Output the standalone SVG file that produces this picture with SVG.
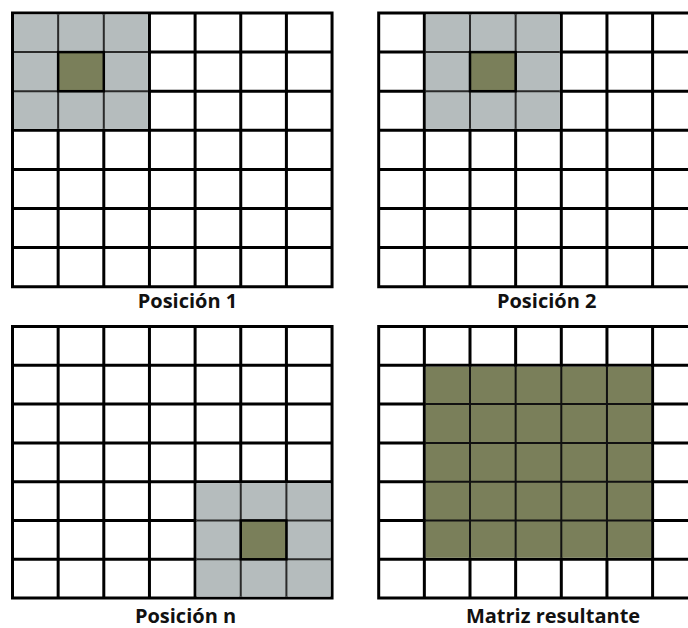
<svg xmlns="http://www.w3.org/2000/svg" width="688" height="628" viewBox="0 0 688 628">
<style>
.bg{fill:#ffffff}
.grid{fill:none;stroke:#000;stroke-width:3;stroke-linecap:square}
.gray{fill:#b5bcbd}
.thin{fill:none;stroke:#2a2a2a;stroke-width:2}
.thinb{fill:none;stroke:#111;stroke-width:2}
.green{fill:#7a7f5a;stroke:#000;stroke-width:2.5}
.greenfill{fill:#7a7f5a}
.lbl{font-family:"Open Sans",Lato,"DejaVu Sans",sans-serif;font-weight:bold;font-size:20px;fill:#111;text-anchor:middle}
</style>
<rect width="688" height="628" fill="#fff"/>

<g id="panel-posicion-1">
<rect class="bg" x="12.5" y="13" width="319.55" height="273.7"/>
<path class="grid" d="M12.5 13V286.7M58.15 13V286.7M103.8 13V286.7M149.45 13V286.7M195.1 13V286.7M240.75 13V286.7M286.4 13V286.7M332.05 13V286.7M12.5 13H332.05M12.5 52.1H332.05M12.5 91.2H332.05M12.5 130.3H332.05M12.5 169.4H332.05M12.5 208.5H332.05M12.5 247.6H332.05M12.5 286.7H332.05"/>
<rect class="gray" x="14" y="14.5" width="133.95" height="114.3"/>
<path class="thin" d="M58.15 14.5V128.8M103.8 14.5V128.8M14 52.1H147.95M14 91.2H147.95"/>
<rect class="green" x="58.15" y="52.1" width="45.65" height="39.1"/>
<text class="lbl" x="187.5" y="307.5">Posición 1</text>
</g>

<g id="panel-posicion-2">
<rect class="bg" x="378.7" y="13" width="319.55" height="273.7"/>
<path class="grid" d="M378.7 13V286.7M424.35 13V286.7M470 13V286.7M515.65 13V286.7M561.3 13V286.7M606.95 13V286.7M652.6 13V286.7M698.25 13V286.7M378.7 13H698.25M378.7 52.1H698.25M378.7 91.2H698.25M378.7 130.3H698.25M378.7 169.4H698.25M378.7 208.5H698.25M378.7 247.6H698.25M378.7 286.7H698.25"/>
<rect class="gray" x="425.85" y="14.5" width="134" height="114.3"/>
<path class="thin" d="M470 14.5V128.8M515.65 14.5V128.8M425.85 52.1H559.8M425.85 91.2H559.8"/>
<rect class="green" x="470" y="52.1" width="45.65" height="39.1"/>
<text class="lbl" x="546.7" y="307.5">Posición 2</text>
</g>

<g id="panel-posicion-n">
<rect class="bg" x="12.5" y="326.5" width="319.55" height="271.6"/>
<path class="grid" d="M12.5 326.5V598.1M58.15 326.5V598.1M103.8 326.5V598.1M149.45 326.5V598.1M195.1 326.5V598.1M240.75 326.5V598.1M286.4 326.5V598.1M332.05 326.5V598.1M12.5 326.5H332.05M12.5 365.3H332.05M12.5 404.1H332.05M12.5 442.9H332.05M12.5 481.7H332.05M12.5 520.5H332.05M12.5 559.3H332.05M12.5 598.1H332.05"/>
<rect class="gray" x="196.6" y="483.2" width="133.95" height="113.4"/>
<path class="thin" d="M240.75 483.2V596.6M286.4 483.2V596.6M196.6 520.5H330.55M196.6 559.3H330.55"/>
<rect class="green" x="240.75" y="520.5" width="45.65" height="38.8"/>
<text class="lbl" x="185.5" y="623">Posición n</text>
</g>

<g id="panel-matriz-resultante">
<rect class="bg" x="378.7" y="326.5" width="319.55" height="271.6"/>
<path class="grid" d="M378.7 326.5V598.1M424.35 326.5V598.1M470 326.5V598.1M515.65 326.5V598.1M561.3 326.5V598.1M606.95 326.5V598.1M652.6 326.5V598.1M698.25 326.5V598.1M378.7 326.5H698.25M378.7 365.3H698.25M378.7 404.1H698.25M378.7 442.9H698.25M378.7 481.7H698.25M378.7 520.5H698.25M378.7 559.3H698.25M378.7 598.1H698.25"/>
<rect class="greenfill" x="425.85" y="366.8" width="225.25" height="191"/>
<path class="thinb" d="M470 366.8V557.8M515.65 366.8V557.8M561.3 366.8V557.8M606.95 366.8V557.8M425.85 404.1H651.1M425.85 442.9H651.1M425.85 481.7H651.1M425.85 520.5H651.1"/>
<text class="lbl" x="553" y="623">Matriz resultante</text>
</g>
</svg>
